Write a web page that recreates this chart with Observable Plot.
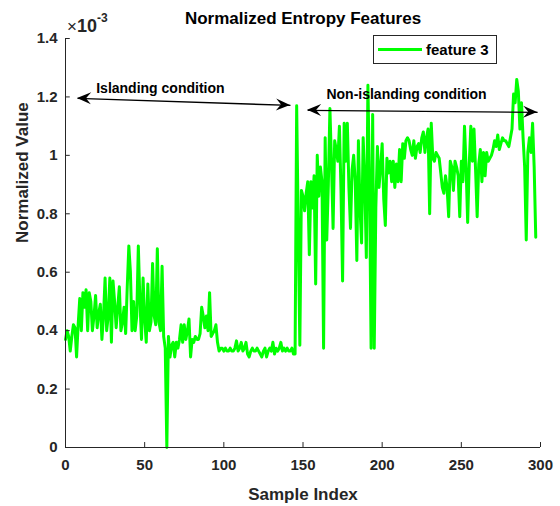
<!DOCTYPE html>
<html><head><meta charset="utf-8">
<script src="https://cdn.jsdelivr.net/npm/d3@7"></script>
<script src="https://cdn.jsdelivr.net/npm/@observablehq/plot@0.6"></script>
<style>
body{margin:0;background:#fff}
svg{font-family:"Liberation Sans",Arial,Helvetica,sans-serif}
</style>
</head><body><div id="chart"></div>
<script>
// values are in units of 1e-3
const section1 = [0.37,0.40,0.38,0.33,0.38,0.42,0.41,0.31,0.42,0.51,
  0.40,0.53,0.48,0.54,0.40,0.53,0.50,0.40,0.45,0.52,
  0.41,0.46,0.49,0.37,0.45,0.58,0.40,0.45,0.58,0.36,
  0.57,0.50,0.41,0.48,0.55,0.40,0.43,0.48,0.39,0.55,
  0.69,0.60,0.40,0.50,0.40,0.45,0.69,0.50,0.37,0.58,
  0.44,0.36,0.56,0.40,0.43,0.63,0.45,0.42,0.68,0.43,
  0.40,0.62,0.38,0.34];
const section2 = [0.00,0.38,0.31,0.35,0.36,0.31,0.36,0.34,0.37,0.42,
  0.36,0.42,0.37,0.40,0.44,0.31,0.37,0.36,0.38,0.37,
  0.37,0.39,0.48,0.45,0.41,0.45,0.40,0.53,0.38,0.39,
  0.40,0.42,0.36,0.33,0.34,0.34,0.33,0.34,0.33,0.33,
  0.34,0.33,0.33,0.34,0.365,0.33,0.34,0.36,0.33,0.34,
  0.36,0.32,0.31,0.33,0.34,0.33,0.33,0.34,0.33,0.32,
  0.31,0.33,0.34,0.31,0.33,0.34,0.33,0.36,0.32,0.34,
  0.33,0.34,0.36,0.33,0.34,0.33,0.34,0.33,0.33,0.34,
  0.32,0.32];
const section3 = [1.17,0.75,0.35,0.88,0.86,0.81,0.87,0.91,0.66,0.91,
  0.82,0.93,0.56,1.00,0.86,0.96,0.91,0.34,1.06,0.71,
  0.90,1.16,0.97,0.75,1.05,1.02,0.98,1.10,0.88,0.57,
  1.11,0.98,1.11,0.89,0.75,0.95,1.00,0.91,0.64,1.05,0.82,
  0.70,1.06,0.91,0.65,1.24,0.91,0.34,1.14,0.34,0.82,
  1.03,0.89,0.96,1.04,0.85,0.76,0.99,0.94,0.98,0.91,
  0.98,0.89,0.97,0.91];
const section4 = [1.02,0.91,1.04,0.99,1.05,1.06,1.05,1.02,1.00,1.05,0.99,
  1.03,1.04,1.01,1.06,1.08,1.01,1.06,1.09,0.80,1.11,
  0.99,0.98,1.01,1.00,0.99,0.94,0.89,0.87,0.93,0.89,0.79,
  0.98,0.96,0.88,0.98,0.96,0.93,0.79,0.98,0.91,1.10,0.96,
  0.77,0.97,1.10,0.98,1.09,0.95,0.79,0.97,1.02,0.91,
  1.01,0.93,1.01,0.98,0.99,1.00,1.02,1.05,1.03,1.07,1.02,
  1.04,1.06,1.05,1.05,1.04,1.03,1.06,1.09,1.21,1.18,1.26,
  1.22,1.09,1.18,1.06,0.96,0.71,1.01,1.06,1.01,1.11,
  0.96,0.72];
const feature3 = [...section1, ...section2, ...section3, ...section4];

const xTicks = [0,50,100,150,200,250,300];
const yTicks = [0,0.2,0.4,0.6,0.8,1,1.2,1.4];
const seriesName = "feature 3";
const titleText = "Normalized Entropy Features";
const xLabel = "Sample Index";
const yLabel = "Normalized Value";
const exponentText = "-3";

const annotLabels = ["Islanding condition", "Non-islanding condition"];
const annotTextX = [19.4, 164.8];
const annotTextY = [1.229, 1.208];
const arrowX1 = [7.6, 152.9];
const arrowY1 = [1.195, 1.154];
const arrowX2 = [142.1, 298.2];
const arrowY2 = [1.171, 1.147];

const data = feature3.map((v, i) => ({x: i, y: v}));
const annots = annotLabels.map((t, i) => ({t, x: annotTextX[i], y: annotTextY[i]}));
const arrows = arrowX1.map((_, i) => ({x1: arrowX1[i], y1: arrowY1[i], x2: arrowX2[i], y2: arrowY2[i]}));

const axisColor = "#262626";
const font = '"Liberation Sans",Arial,Helvetica,sans-serif';

const svg = Plot.plot({
  width: 560, height: 506,
  marginLeft: 65, marginRight: 20, marginTop: 38, marginBottom: 59,
  style: {fontFamily: font, background: "#fff", color: axisColor},
  x: {domain: [0, 300]},
  y: {domain: [0, 1.4]},
  marks: [
    Plot.line(data, {x: "x", y: "y", stroke: "#00ff00", strokeWidth: 3, strokeLinejoin: "round"}),
    Plot.ruleX([0], {stroke: axisColor, strokeWidth: 1}),
    Plot.ruleY([0], {stroke: axisColor, strokeWidth: 1}),
    Plot.ruleX(xTicks, {x: d => d, y1: 0, y2: 0.017, stroke: axisColor}),
    Plot.ruleY(yTicks, {y: d => d, x1: 0, x2: 3, stroke: axisColor}),
    Plot.axisX(xTicks, {tickSize: 0, tickPadding: 12, label: null, fontSize: 15, fontWeight: "bold", tickFormat: d => String(d), fill: axisColor}),
    Plot.axisY(yTicks, {tickSize: 0, tickPadding: 8, label: null, fontSize: 15, fontWeight: "bold", tickFormat: d => String(d), fill: axisColor}),
    Plot.text([titleText], {text: d => d, frameAnchor: "top", dy: -20, fontSize: 17, fontWeight: "bold", fill: "#000", lineAnchor: "middle"}),
    Plot.text([xLabel], {text: d => d, frameAnchor: "bottom", dy: 47, fontSize: 17, fontWeight: "bold", fill: axisColor, lineAnchor: "middle"}),
    Plot.text([yLabel], {text: d => d, frameAnchor: "left", dx: -43, rotate: -90, fontSize: 17, fontWeight: "bold", fill: axisColor, lineAnchor: "middle"}),
    Plot.text(annots, {x: "x", y: "y", text: "t", textAnchor: "start", lineAnchor: "middle", fontSize: 14, fontWeight: "bold", fill: "#000"}),
    Plot.link(arrows, {x1: "x1", y1: "y1", x2: "x2", y2: "y2", stroke: "#000", strokeWidth: 1.4})
  ]
});

// arrowheads (MATLAB vback2 style) using the plot's own scales
const sx = svg.scale("x"), sy = svg.scale("y");
const g = d3.select(svg).append("g");
function head(tx, ty, fx, fy) {
  const dx = tx - fx, dy = ty - fy, len = Math.hypot(dx, dy);
  const ux = dx / len, uy = dy / len, nx = -uy, ny = ux;
  const L = 14, W = 6, N = 9;
  const p = [
    [tx, ty],
    [tx - L * ux + W * nx, ty - L * uy + W * ny],
    [tx - N * ux, ty - N * uy],
    [tx - L * ux - W * nx, ty - L * uy - W * ny]
  ];
  g.append("path").attr("d", "M" + p.map(q => q.join(",")).join("L") + "Z").attr("fill", "#000");
}
arrows.forEach(a => {
  const x1 = sx.apply(a.x1), y1 = sy.apply(a.y1), x2 = sx.apply(a.x2), y2 = sy.apply(a.y2);
  head(x1, y1, x2, y2);
  head(x2, y2, x1, y1);
});

// exponent label above the y axis
const ex = d3.select(svg).append("text")
  .attr("x", 67).attr("y", 32).attr("text-anchor", "start")
  .style("font-family", font).style("fill", axisColor);
ex.append("tspan").style("font-size", "17px").style("font-weight", "normal").text("\u00d7");
ex.append("tspan").style("font-size", "18px").style("font-weight", "bold").text("10");
ex.append("tspan").style("font-size", "12px").style("font-weight", "bold").attr("dy", -10).text(exponentText);

// legend
const lg = d3.select(svg).append("g");
lg.append("rect").attr("x", 373.5).attr("y", 35.5).attr("width", 123).attr("height", 28)
  .attr("fill", "#fff").attr("stroke", axisColor).attr("stroke-width", 1);
lg.append("line").attr("x1", 378).attr("x2", 422).attr("y1", 49.5).attr("y2", 49.5)
  .attr("stroke", "#00ff00").attr("stroke-width", 3);
lg.append("text").attr("x", 426).attr("y", 49.5).attr("dy", "0.35em").attr("text-anchor", "start")
  .style("font-family", font).style("font-size", "15px").style("font-weight", "bold").style("fill", "#000").text(seriesName);

document.getElementById("chart").appendChild(svg);
</script>
</body></html>
